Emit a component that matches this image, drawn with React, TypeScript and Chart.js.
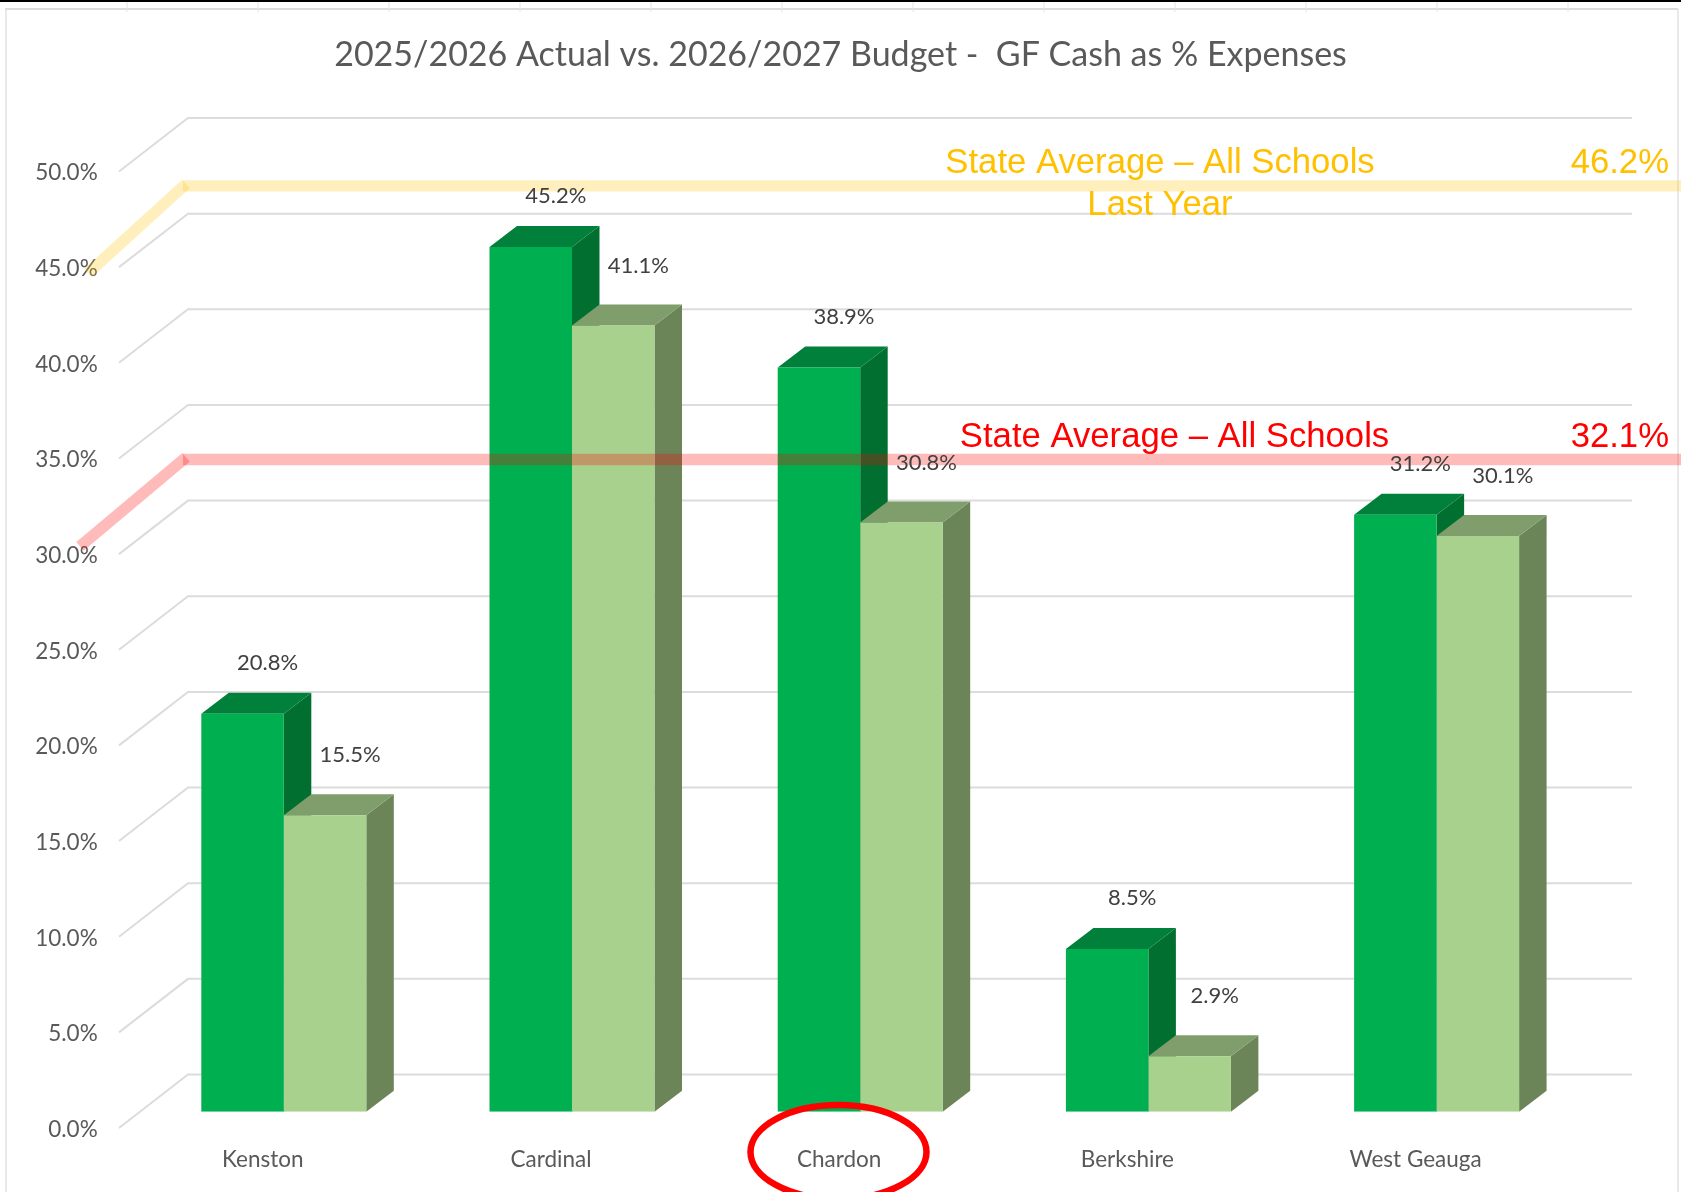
import React, { useEffect, useRef } from "react";
import { Chart, registerables } from "chart.js";

Chart.register(...registerables);

const titleText = "2025/2026 Actual vs. 2026/2027 Budget -  GF Cash as % Expenses";
const schools = ["Kenston", "Cardinal", "Chardon", "Berkshire", "West Geauga"];
const actual2526 = [20.8, 45.2, 38.9, 8.5, 31.2];
const budget2627 = [15.5, 41.1, 30.8, 2.9, 30.1];
const bandPlotted = [46.45, 32.15];
const bandValueLabels = ["46.2%", "32.1%"];
const bandColors = ["rgba(255,192,0,0.26)", "rgba(255,0,0,0.27)"];
const bandTextColors = ["#FFC000", "#FF0000"];
const bandTexts = [["State Average – All Schools", "Last Year"], ["State Average – All Schools"]];

const FONT = "Lato, Carlito, sans-serif";
const DEPTH_X = 27.5;
const DEPTH_Y = 21;
const BACK_Y = 37.2;

const faces = [
  { top: "#00803A", side: "#006F30" },
  { top: "#7F9E6B", side: "#6B8559" },
];

const poly = (ctx: CanvasRenderingContext2D, pts: number[][], fill: string) => {
  ctx.beginPath();
  pts.forEach(([x, y], i) => (i ? ctx.lineTo(x, y) : ctx.moveTo(x, y)));
  ctx.closePath();
  ctx.fillStyle = fill;
  ctx.fill();
};

const scene = {
  id: "scene3d",
  beforeDraw(chart: any) {
    const { ctx, scales } = chart;
    ctx.save();
    // sheet frame behind the chart
    ctx.fillStyle = "#000000";
    ctx.fillRect(0, 0, 1681, 2);
    ctx.strokeStyle = "#DCDCDC";
    ctx.lineWidth = 2;
    ctx.beginPath();
    ctx.moveTo(5, 9);
    ctx.lineTo(1678, 9);
    ctx.stroke();
    ctx.strokeStyle = "#E2E2E2";
    ctx.lineWidth = 1.5;
    ctx.beginPath();
    ctx.moveTo(6, 9);
    ctx.lineTo(6, 1192);
    ctx.moveTo(1678, 9);
    ctx.lineTo(1678, 1192);
    ctx.stroke();
    ctx.lineWidth = 1;
    ctx.strokeStyle = "#E4E4E4";
    ctx.beginPath();
    for (let x = 127; x < 1680; x += 131) {
      ctx.moveTo(x, 2);
      ctx.lineTo(x, 12);
    }
    ctx.stroke();
    // walls
    ctx.strokeStyle = "#DCDCDC";
    ctx.lineWidth = 2;
    scales.y.ticks.forEach((t: any) => {
      const y = scales.y.getPixelForValue(t.value) - BACK_Y;
      ctx.beginPath();
      ctx.moveTo(119, y + 53.5);
      ctx.lineTo(188, y);
      ctx.lineTo(1632, y);
      ctx.stroke();
    });
    ctx.restore();
  },
  beforeDatasetsDraw(chart: any) {
    const { ctx } = chart;
    const a = chart.getDatasetMeta(0).data;
    const b = chart.getDatasetMeta(1).data;
    ctx.save();
    schools.forEach((_, i) => {
      [a[i], b[i]].forEach((el: any, s: number) => {
        const l = el.x - el.width / 2;
        const r = el.x + el.width / 2;
        poly(ctx, [[r, el.y], [r + DEPTH_X, el.y - DEPTH_Y], [r + DEPTH_X, el.base - DEPTH_Y], [r, el.base]], faces[s].side);
        poly(ctx, [[l, el.y], [l + DEPTH_X, el.y - DEPTH_Y], [r + DEPTH_X, el.y - DEPTH_Y], [r, el.y]], faces[s].top);
      });
    });
    ctx.restore();
  },
  afterDatasetsDraw(chart: any) {
    const { ctx, scales } = chart;
    ctx.save();
    // state-average bands on the back wall
    ctx.lineWidth = 11.4;
    ctx.lineCap = "butt";
    const ends = [88, 80];
    bandPlotted.forEach((v, i) => {
      const y = scales.y.getPixelForValue(v) - BACK_Y;
      ctx.strokeStyle = bandColors[i];
      ctx.beginPath();
      ctx.moveTo(183, y);
      ctx.lineTo(1681, y);
      ctx.stroke();
      ctx.beginPath();
      ctx.moveTo(186, y - 2);
      ctx.lineTo(ends[i], y + 87);
      ctx.stroke();
    });
    // value labels
    ctx.font = `22px ${FONT}`;
    ctx.fillStyle = "#404040";
    ctx.textAlign = "center";
    ctx.textBaseline = "middle";
    [chart.getDatasetMeta(0).data, chart.getDatasetMeta(1).data].forEach((els: any[], s: number) => {
      els.forEach((el, i) => {
        const v = (s === 0 ? actual2526 : budget2627)[i];
        ctx.fillText(v.toFixed(1) + "%", el.x + 25, el.y - (s === 0 ? 51 : 60));
      });
    });
    // band captions
    ctx.font = `34.7px "Liberation Sans", Arial, sans-serif`;
    const captionX = [1160, 1174.5];
    const captionY = [163.5, 437];
    bandTexts.forEach((lines, i) => {
      ctx.fillStyle = bandTextColors[i];
      ctx.textAlign = "center";
      lines.forEach((line, k) => ctx.fillText(line, captionX[i], captionY[i] + k * 42));
      ctx.textAlign = "right";
      ctx.fillText(bandValueLabels[i], 1669, captionY[i]);
    });
    // circle around Chardon
    ctx.strokeStyle = "#FF0000";
    ctx.lineWidth = 6.5;
    ctx.beginPath();
    ctx.ellipse(838.5, 1152, 88, 47, 0, 0, Math.PI * 2);
    ctx.stroke();
    ctx.restore();
  },
};

export default function App() {
  const ref = useRef<HTMLCanvasElement>(null);
  useEffect(() => {
    const chart = new Chart(ref.current as HTMLCanvasElement, {
      type: "bar",
      data: {
        labels: schools,
        datasets: [
          { label: "2025/2026 Actual", data: actual2526, backgroundColor: "#00B050", borderWidth: 0, yAxisID: "y" },
          { label: "2026/2027 Budget", data: budget2627, backgroundColor: "#A9D18E", borderWidth: 0, yAxisID: "y" },
        ],
      },
      options: {
        responsive: false,
        animation: false,
        layout: { padding: 0 },
        plugins: {
          legend: { display: false },
          tooltip: { enabled: false },
          title: {
            display: true,
            text: titleText,
            color: "#595959",
            font: { family: FONT, size: 34, weight: "normal", lineHeight: 1.2 },
            padding: { top: 34.6, bottom: 79.8 },
          },
        },
        scales: {
          x: {
            grid: { display: false, drawTicks: false },
            border: { display: false },
            offset: true,
            ticks: {
              color: "#595959",
              font: { family: FONT, size: 22.5 },
              padding: 35,
              labelOffset: -21,
              maxRotation: 0,
            },
            afterFit: (s: any) => {
              s.height = 80.3;
            },
          },
          y: {
            min: 0,
            max: 50,
            grid: { display: false, drawTicks: false },
            border: { display: false },
            ticks: {
              stepSize: 5,
              color: "#595959",
              font: { family: FONT, size: 22.5 },
              padding: 42,
              labelOffset: 18,
              autoSkip: false,
              callback: (v: any) => Number(v).toFixed(1) + "%",
            },
            afterFit: (s: any) => {
              s.width = 139.7;
            },
          },
          rightMargin: {
            type: "linear",
            position: "right",
            grid: { display: false, drawTicks: false },
            border: { display: false },
            ticks: { display: false },
            afterFit: (s: any) => {
              s.width = 100.3;
            },
          },
        },
        datasets: { bar: { categoryPercentage: 0.5725, barPercentage: 1 } },
      } as any,
      plugins: [scene],
    });
    return () => chart.destroy();
  }, []);
  return (
    <div style={{ position: "fixed", left: 0, top: 0, width: 1681, height: 1192, background: "#fff", overflow: "hidden" }}>
      <canvas ref={ref} width={1681} height={1192} style={{ display: "block" }} />
    </div>
  );
}
